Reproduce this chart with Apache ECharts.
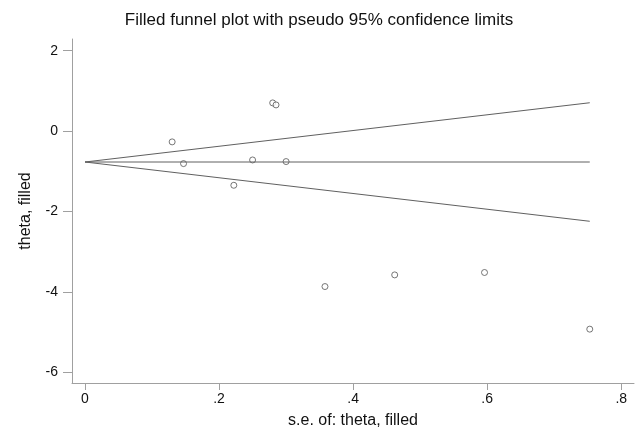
<!DOCTYPE html>
<html>
<head>
<meta charset="utf-8">
<script src="https://cdn.jsdelivr.net/npm/echarts@6/dist/echarts.min.js"></script>
<style>
  html, body { margin: 0; padding: 0; background: #fff; }
  #chart { width: 640px; height: 429px; }
</style>
</head>
<body>
<div id="chart"></div>
<script>
// study estimates: standard error and effect (theta)
const seValues = [0.130, 0.147, 0.222, 0.250, 0.280, 0.285, 0.300, 0.358, 0.462, 0.596, 0.753];
const thetaValues = [-0.27, -0.81, -1.35, -0.72, 0.70, 0.65, -0.76, -3.87, -3.58, -3.52, -4.93];

// pooled estimate and pseudo 95% limits (drawn from se = 0 to the largest se)
const pooled = -0.771;
const limitSe = [0, 0.753];
const upperLimit = [-0.771, 0.704];
const lowerLimit = [-0.771, -2.246];

const xTicks = [0, 0.2, 0.4, 0.6, 0.8];
const yTicks = [-6, -4, -2, 0, 2];

const chart = echarts.init(document.getElementById('chart'));

const axisGray = '#a0a0a0';
const lineGray = '#606060';

function fmtX(v) {
  if (v === 0) return '0';
  return String(Math.round(v * 10) / 10).replace(/^0/, '');
}

let points = seValues.map((s, i) => [s, thetaValues[i]]);

let options = {
  backgroundColor: '#fff',
  animation: false,
  title: {
    text: 'Filled funnel plot with pseudo 95% confidence limits',
    left: 314,
    top: 7,
    textAlign: 'center',
    textStyle: {
      fontFamily: 'Liberation Sans, Arial, sans-serif',
      fontSize: 17,
      fontWeight: 'normal',
      color: '#111'
    }
  },
  grid: {
    left: 72,
    right: 6,
    top: 39,
    bottom: 46,
    outerBoundsMode: 'none'
  },
  xAxis: {
    type: 'value',
    min: -0.0194,
    max: 0.819,
    name: 's.e. of: theta, filled',
    nameLocation: 'middle',
    nameGap: 30,
    nameTextStyle: {
      fontFamily: 'Liberation Sans, Arial, sans-serif',
      fontSize: 16,
      color: '#111'
    },
    axisLine: { onZero: false, lineStyle: { color: axisGray, width: 1 } },
    axisTick: {
      show: true,
      length: 7,
      customValues: xTicks,
      lineStyle: { color: axisGray }
    },
    axisLabel: {
      customValues: xTicks,
      formatter: fmtX,
      margin: 9,
      fontFamily: 'Liberation Sans, Arial, sans-serif',
      fontSize: 14,
      color: '#111'
    },
    splitLine: { show: false }
  },
  yAxis: {
    type: 'value',
    min: -6.27,
    max: 2.29,
    name: 'theta, filled',
    nameLocation: 'middle',
    nameGap: 38,
    nameTextStyle: {
      fontFamily: 'Liberation Sans, Arial, sans-serif',
      fontSize: 16,
      color: '#111'
    },
    axisLine: { show: true, onZero: false, lineStyle: { color: axisGray, width: 1 } },
    axisTick: {
      show: true,
      length: 9,
      customValues: yTicks,
      lineStyle: { color: axisGray }
    },
    axisLabel: {
      customValues: yTicks,
      margin: 14,
      fontFamily: 'Liberation Sans, Arial, sans-serif',
      fontSize: 14,
      color: '#111'
    },
    splitLine: { show: false }
  },
  series: [
    {
      name: 'pooled',
      type: 'line',
      symbol: 'none',
      data: limitSe.map(s => [s, pooled]),
      lineStyle: { color: lineGray, width: 1 }
    },
    {
      name: 'upper',
      type: 'line',
      symbol: 'none',
      data: limitSe.map((s, i) => [s, upperLimit[i]]),
      lineStyle: { color: lineGray, width: 1 }
    },
    {
      name: 'lower',
      type: 'line',
      symbol: 'none',
      data: limitSe.map((s, i) => [s, lowerLimit[i]]),
      lineStyle: { color: lineGray, width: 1 }
    },
    {
      name: 'studies',
      type: 'scatter',
      symbol: 'circle',
      symbolSize: 6,
      data: points,
      itemStyle: {
        color: '#fff',
        borderColor: '#555',
        borderWidth: 1
      }
    }
  ]
};

chart.setOption(options);
</script>
</body>
</html>
